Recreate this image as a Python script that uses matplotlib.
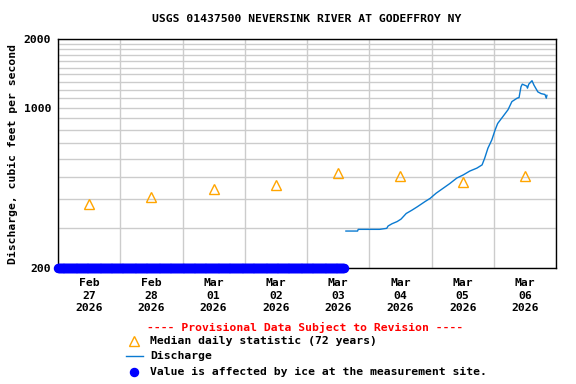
import pandas as pd
import matplotlib
matplotlib.use('Agg')
import matplotlib.pyplot as plt
import matplotlib.dates as mdates
import matplotlib.transforms as mtransforms
from matplotlib.lines import Line2D

# Discharge (cfs), 15-minute record
q_times = ['2026-03-03 15:00', '2026-03-03 19:30', '2026-03-03 19:45', '2026-03-04 04:00',
           '2026-03-04 06:45', '2026-03-04 07:15', '2026-03-04 08:45', '2026-03-04 10:45',
           '2026-03-04 12:15', '2026-03-04 14:15', '2026-03-04 16:30', '2026-03-04 18:30',
           '2026-03-04 21:30', '2026-03-04 23:30', '2026-03-05 01:45', '2026-03-05 04:30',
           '2026-03-05 07:00', '2026-03-05 09:45', '2026-03-05 12:15', '2026-03-05 14:45',
           '2026-03-05 17:30', '2026-03-05 19:30', '2026-03-05 20:30', '2026-03-05 21:45',
           '2026-03-05 23:15', '2026-03-06 00:30', '2026-03-06 01:30', '2026-03-06 03:30',
           '2026-03-06 05:30', '2026-03-06 07:00', '2026-03-06 09:00', '2026-03-06 09:45',
           '2026-03-06 10:30', '2026-03-06 11:00', '2026-03-06 12:45', '2026-03-06 13:00',
           '2026-03-06 13:30', '2026-03-06 14:45', '2026-03-06 15:30', '2026-03-06 17:00',
           '2026-03-06 18:15', '2026-03-06 19:45', '2026-03-06 20:15', '2026-03-06 20:30']
q_values = [290, 290, 295, 295,
            298, 305, 312, 319,
            327, 346, 358, 370,
            390, 403, 424, 446,
            467, 494, 510, 530,
            546, 564, 603, 667,
            725, 800, 855, 916,
            982, 1066, 1103, 1110,
            1237, 1270, 1245, 1220,
            1270, 1315, 1258, 1175,
            1155, 1145, 1103, 1135]

# Median daily statistic (72 years), plotted at noon
med_days = ['2026-02-27 12:00', '2026-02-28 12:00', '2026-03-01 12:00', '2026-03-02 12:00',
            '2026-03-03 12:00', '2026-03-04 12:00', '2026-03-05 12:00', '2026-03-06 12:00']
med_values = [381, 409, 441, 460, 520, 504, 475, 504]

# Ice-affected period (values shown along the bottom of the plot)
ice_start = '2026-02-27 00:00'
ice_end = '2026-03-03 14:15'
ice_level = 200

q_t = pd.to_datetime(q_times)
med_t = pd.to_datetime(med_days)
ice_t = pd.date_range(ice_start, ice_end, freq='15min')

mono = 'DejaVu Sans Mono'
fs = 8.2

fig = plt.figure(figsize=(5.76, 3.84), dpi=100)
ax = fig.add_axes([58 / 576, (384 - 268) / 384, (556 - 58) / 576, (268 - 39) / 384])

ax.set_yscale('log')
ax.set_ylim(200, 2000)
ax.set_xlim(pd.Timestamp('2026-02-27'), pd.Timestamp('2026-03-07'))

ax.plot(q_t, q_values, color='#0a7ad1', lw=1, zorder=3)
ax.plot(med_t, med_values, ls='none', marker='^', ms=7, mfc='none', mec='#ffa500', mew=1, zorder=4)
ax.plot(ice_t, [ice_level] * len(ice_t), ls='none', marker='o', ms=5.8, color='#0000ff',
        clip_on=False, zorder=5)

# y axis: labels at 200, 1000, 2000, grid every 100
ax.set_yticks([200, 1000, 2000])
ax.set_yticklabels(['200', '1000', '2000'])
ax.set_yticks([v for v in range(300, 2000, 100) if v != 1000], minor=True)
ax.yaxis.set_minor_formatter(matplotlib.ticker.NullFormatter())

# x axis: grid at midnight, date labels at noon (drawn as three rows)
ax.xaxis.set_major_locator(mdates.DayLocator())
ax.xaxis.set_major_formatter(matplotlib.ticker.NullFormatter())

ax.grid(True, which='both', color='#cccccc', lw=1, zorder=0)
ax.set_axisbelow(True)
ax.tick_params(which='both', length=0)
ax.tick_params(axis='y', pad=5)
for lab in ax.get_yticklabels():
    lab.set_fontfamily(mono)
    lab.set_fontweight('bold')
    lab.set_fontsize(fs)
for sp in ax.spines.values():
    sp.set_color('black')
    sp.set_linewidth(1)

trans = mtransforms.blended_transform_factory(ax.transData, fig.transFigure)
for d in med_t:
    for fmt, ypix in zip(['%b', '%d', '%Y'], [283, 296, 308]):
        ax.text(mdates.date2num(d), 1 - ypix / 384, d.strftime(fmt), transform=trans,
                ha='center', va='center', family=mono, weight='bold', fontsize=fs,
                clip_on=False)

ax.set_ylabel('Discharge, cubic feet per second', family=mono, weight='bold', fontsize=fs)
ax.yaxis.set_label_coords(-40 / 498, 0.5)

fig.text(307 / 576, 1 - 19 / 384, 'USGS 01437500 NEVERSINK RIVER AT GODEFFROY NY',
         ha='center', va='center', family=mono, weight='bold', fontsize=fs)
fig.text(305 / 576, 1 - 327 / 384, '---- Provisional Data Subject to Revision ----',
         ha='center', va='center', family=mono, weight='bold', fontsize=fs, color='red')

# legend
rows = [341, 356, 372]
labels = ['Median daily statistic (72 years)', 'Discharge',
          'Value is affected by ice at the measurement site.']
for y, txt in zip(rows, labels):
    fig.text(150 / 576, 1 - y / 384, txt, ha='left', va='center',
             family=mono, weight='bold', fontsize=fs)
fy = lambda y: 1 - y / 384
fig.add_artist(Line2D([134 / 576], [fy(rows[0])], transform=fig.transFigure, ls='none',
                      marker='^', ms=7, mfc='none', mec='#ffa500', mew=1))
fig.add_artist(Line2D([126 / 576, 143 / 576], [fy(rows[1])] * 2, transform=fig.transFigure,
                      color='#0a7ad1', lw=1))
fig.add_artist(Line2D([134 / 576], [fy(rows[2])], transform=fig.transFigure, ls='none',
                      marker='o', ms=5.8, color='#0000ff'))

fig.savefig('out.png', dpi=100)
